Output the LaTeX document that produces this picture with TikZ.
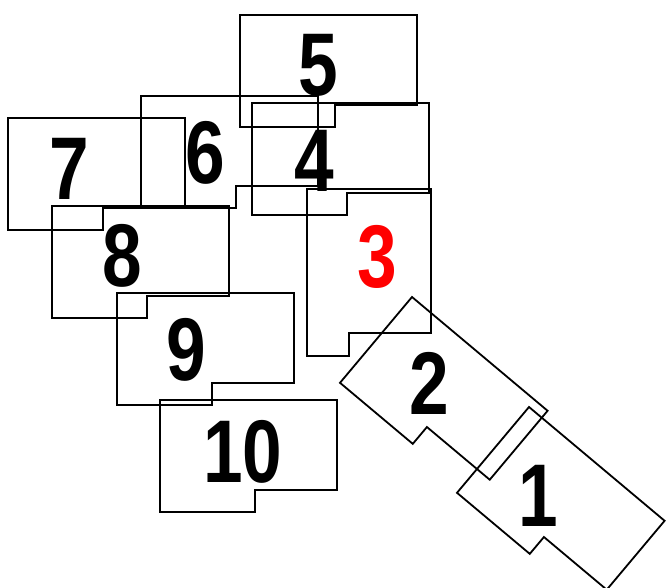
\documentclass[tikz,border=0pt]{standalone}
\usepackage{fontspec}
\newfontfamily\numfont{Liberation Sans}[FakeStretch=0.8]
\tikzset{
  piece/.style={line width=1.8pt, line join=miter},
  num/.style={font=\numfont\bfseries\fontsize{89}{89}\selectfont, inner sep=0pt},
}
% one stepped piece, top-left corner at (#1,#2), turned by #3
\newcommand{\block}[3]{%
  \draw[piece,shift={(#1,#2)},rotate=#3] (0,0) -- (177,0) -- (177,90) -- (95,90) -- (95,112) -- (0,112) -- cycle;}

\begin{document}
\begin{tikzpicture}[x=1pt,y=-1pt]
\useasboundingbox (0,0) rectangle (666,588);
% pieces (pixel coordinates, y down)
\foreach \x/\y/\a in {240/15/0, 141/96/0, 252/103/0, 8/118/0, 52/206/0,
  117/293/0, 160/400/0, 412/297/-40, 529/407/-40}{
  \block{\x}{\y}{\a}
}
% the tall piece 3
\draw[piece] (307,189) -- (431,189) -- (431,333) -- (349,333) -- (349,356) -- (307,356) -- cycle;
% numbers
\foreach \n/\x/\y in {1/538/496, 2/429/383, 4/314/161, 5/318/65, 6/205/153,
  7/69/169, 8/122/256, 9/186/350, 10/243/452}{
  \node[num] (n\n) at (\x,\y) {\n};
}
\node[num,text=red] (n3) at (377,257) {3};
\end{tikzpicture}
\end{document}
